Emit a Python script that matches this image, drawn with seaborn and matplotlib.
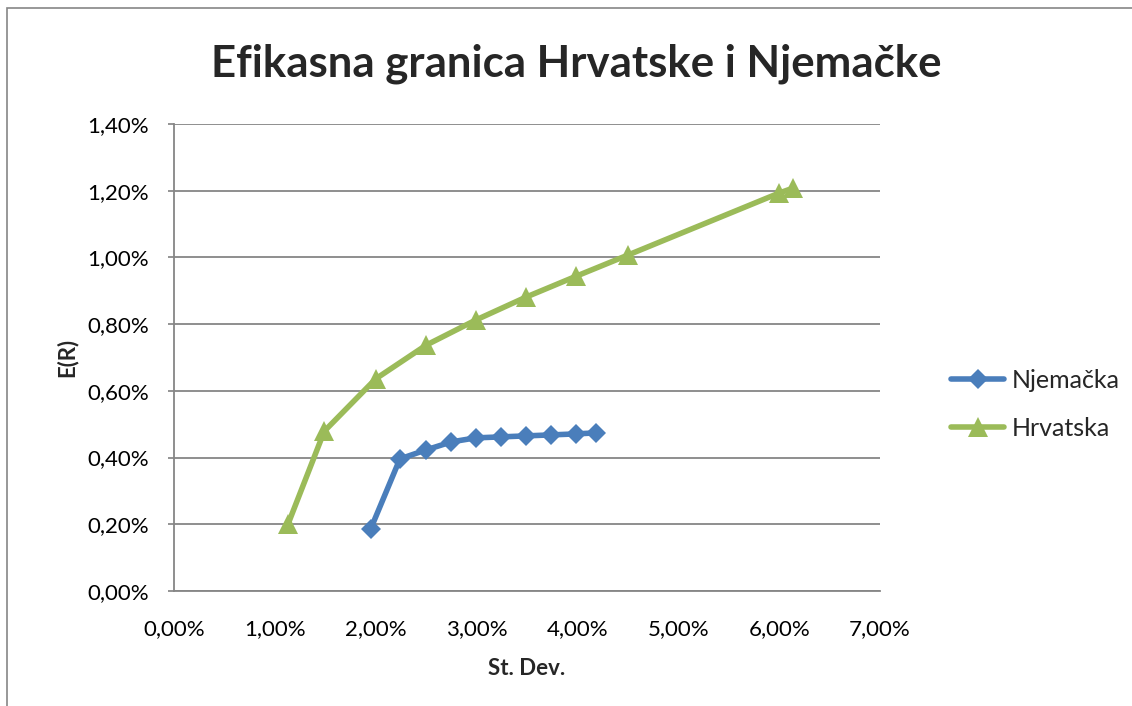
import pandas as pd
import seaborn as sns
import matplotlib.pyplot as plt
from matplotlib.patches import Rectangle
from matplotlib.ticker import FuncFormatter

# values in percent
de_sd = [1.95, 2.24, 2.50, 2.75, 2.99, 3.24, 3.49, 3.74, 3.99, 4.18]
de_er = [0.186, 0.396, 0.423, 0.447, 0.459, 0.462, 0.465, 0.468, 0.471, 0.474]
hr_sd = [1.13, 1.49, 2.00, 2.50, 2.99, 3.49, 3.99, 4.50, 6.00, 6.14]
hr_er = [0.200, 0.479, 0.636, 0.737, 0.812, 0.881, 0.944, 1.007, 1.193, 1.208]
series = ['Njemačka', 'Hrvatska']

df = pd.concat([
    pd.DataFrame({'sd': de_sd, 'er': de_er, 'zemlja': series[0]}),
    pd.DataFrame({'sd': hr_sd, 'er': hr_er, 'zemlja': series[1]}),
])

sns.set_theme(style='white')
plt.rcParams['font.family'] = ['Lato', 'DejaVu Sans']

fig = plt.figure(figsize=(11.32, 7.06), dpi=100)
ax = fig.add_axes([174 / 1132, 1 - 591 / 706, 706 / 1132, 467 / 706])

colors = {'Njemačka': '#4A7EBB', 'Hrvatska': '#9BBB59'}
markers = {'Njemačka': 'D', 'Hrvatska': '^'}
sizes = {'Njemačka': 10, 'Hrvatska': 14}
for name in series:
    d = df[df.zemlja == name]
    sns.lineplot(data=d, x='sd', y='er', ax=ax, color=colors[name], lw=4,
                 marker=markers[name], markersize=sizes[name], markeredgewidth=0,
                 sort=False, label=name)

ax.set_xlim(0, 7)
ax.set_ylim(0, 1.4)
ax.set_xticks([i for i in range(8)])
ax.set_yticks([i * 0.2 for i in range(8)])
pct = FuncFormatter(lambda v, p: f'{v:.2f}%'.replace('.', ','))
ax.xaxis.set_major_formatter(pct)
ax.yaxis.set_major_formatter(pct)
ax.tick_params(axis='both', labelsize=16, colors='black')
ax.tick_params(axis='x', pad=14)
ax.tick_params(axis='y', left=True, length=4, color='#868686', pad=14)

ax.grid(axis='y', color='#868686', lw=1.3)
ax.grid(axis='x', visible=False)
for s in ['top', 'right']:
    ax.spines[s].set_visible(False)
for s in ['left', 'bottom']:
    ax.spines[s].set_color('#868686')
    ax.spines[s].set_linewidth(1.3)

ax.set_xlabel('St. Dev.', fontsize=16, fontweight='bold', labelpad=14)
ax.set_ylabel('E(R)', fontsize=16, fontweight='bold', labelpad=7)

fig.text(576 / 1132, 1 - 64 / 706, 'Efikasna granica Hrvatske i Njemačke',
         ha='center', va='center', fontsize=31.5, fontweight='bold')

ax.legend(loc='center left', bbox_to_anchor=(929 / 1132, 1 - 404 / 706),
          bbox_transform=fig.transFigure, frameon=False, fontsize=18,
          handlelength=2.1, handletextpad=0.3, labelspacing=1.0)

fig.patches.append(Rectangle((7 / 1132, -0.05), 1.2, 1 - 8 / 706 + 0.05,
                             transform=fig.transFigure, fill=False,
                             edgecolor='#868686', lw=1.2))

fig.savefig('out.png', dpi=100)
